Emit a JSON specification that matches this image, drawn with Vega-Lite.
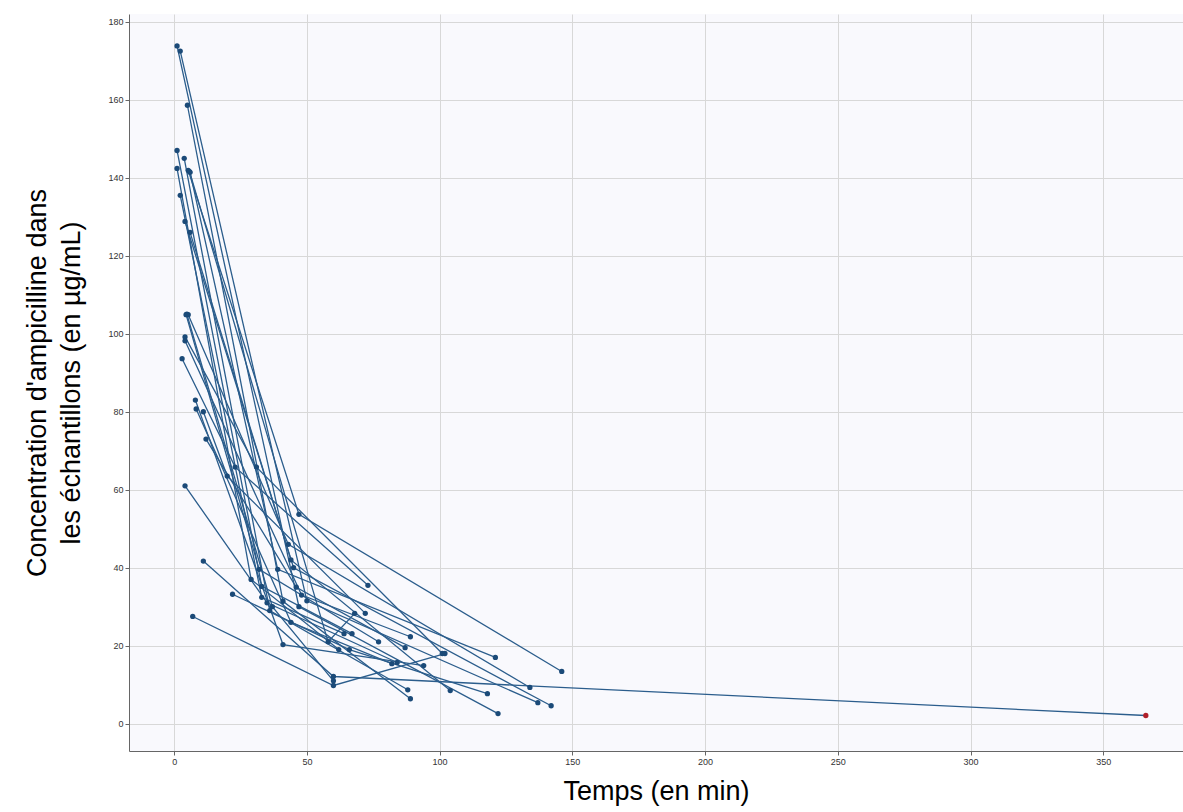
{
  "$schema": "https://vega.github.io/schema/vega-lite/v6.json",
  "width": 1183,
  "height": 812,
  "autosize": {"type": "fit", "contains": "padding"},
  "padding": {"left": 23, "top": 14, "right": 0, "bottom": 8},
  "background": "white",
  "config": {
    "view": {"fill": "#f9f9fd", "stroke": null},
    "font": "Liberation Sans"
  },
  "data": {
    "values": [
      {"id": "A", "t": 1.1, "c": 173.8}, {"id": "A", "t": 47, "c": 30}, {"id": "A", "t": 122, "c": 2.6},
      {"id": "B", "t": 2.3, "c": 172.5}, {"id": "B", "t": 50, "c": 31.5}, {"id": "B", "t": 137, "c": 5.4},
      {"id": "C", "t": 5, "c": 158.6}, {"id": "C", "t": 41, "c": 31.4}, {"id": "C", "t": 89, "c": 6.4},
      {"id": "D", "t": 1.1, "c": 147}, {"id": "D", "t": 33, "c": 35.2}, {"id": "D", "t": 67, "c": 23.1},
      {"id": "E", "t": 3.8, "c": 145}, {"id": "E", "t": 36, "c": 29}, {"id": "E", "t": 88, "c": 8.7},
      {"id": "F", "t": 1.1, "c": 142.4}, {"id": "F", "t": 29, "c": 37}, {"id": "F", "t": 62, "c": 19},
      {"id": "G", "t": 5.3, "c": 141.9}, {"id": "G", "t": 47, "c": 53.7}, {"id": "G", "t": 146, "c": 13.4},
      {"id": "H", "t": 6, "c": 141.4}, {"id": "H", "t": 39, "c": 39.6}, {"id": "H", "t": 121, "c": 17},
      {"id": "I", "t": 2.3, "c": 135.5}, {"id": "I", "t": 33, "c": 32.4}, {"id": "I", "t": 64, "c": 23.1},
      {"id": "J", "t": 4.1, "c": 128.8}, {"id": "J", "t": 45, "c": 40}, {"id": "J", "t": 142, "c": 4.6},
      {"id": "K", "t": 6, "c": 126}, {"id": "K", "t": 44, "c": 42}, {"id": "K", "t": 104, "c": 8.5},
      {"id": "L", "t": 4.5, "c": 104.9}, {"id": "L", "t": 32, "c": 39.6}, {"id": "L", "t": 77, "c": 21},
      {"id": "M", "t": 5.3, "c": 104.9}, {"id": "M", "t": 43, "c": 46}, {"id": "M", "t": 134, "c": 9.3},
      {"id": "N", "t": 4.1, "c": 99.2}, {"id": "N", "t": 31, "c": 65.8}, {"id": "N", "t": 101, "c": 18},
      {"id": "O", "t": 4.1, "c": 98.2}, {"id": "O", "t": 48, "c": 33}, {"id": "O", "t": 89, "c": 22.3},
      {"id": "P", "t": 3, "c": 93.6}, {"id": "P", "t": 23, "c": 65.8}, {"id": "P", "t": 73, "c": 35.5},
      {"id": "Q", "t": 8, "c": 83}, {"id": "Q", "t": 41, "c": 20.3}, {"id": "Q", "t": 94, "c": 14.9},
      {"id": "R", "t": 8.3, "c": 80.7}, {"id": "R", "t": 44, "c": 26}, {"id": "R", "t": 82, "c": 15.4},
      {"id": "S", "t": 11, "c": 80}, {"id": "S", "t": 20, "c": 63.5}, {"id": "S", "t": 72, "c": 28.3},
      {"id": "T", "t": 12, "c": 73}, {"id": "T", "t": 46, "c": 35}, {"id": "T", "t": 87, "c": 19.5},
      {"id": "U", "t": 4.1, "c": 61}, {"id": "U", "t": 35, "c": 31}, {"id": "U", "t": 84, "c": 15.7},
      {"id": "V", "t": 11, "c": 41.7}, {"id": "V", "t": 60, "c": 12.1}, {"id": "V", "t": 366, "c": 2.1},
      {"id": "W", "t": 22, "c": 33.2}, {"id": "W", "t": 66, "c": 19}, {"id": "W", "t": 118, "c": 7.7},
      {"id": "X", "t": 7, "c": 27.5}, {"id": "X", "t": 60, "c": 9.8}, {"id": "X", "t": 102, "c": 18},
      {"id": "Y", "t": 5.8, "c": 141.6}, {"id": "Y", "t": 58, "c": 21}, {"id": "Y", "t": 68, "c": 28.3},
      {"id": "Z", "t": 4.8, "c": 105}, {"id": "Z", "t": 37, "c": 30}, {"id": "Z", "t": 60, "c": 11}
    ]
  },
  "encoding": {
    "x": {
      "field": "t", "type": "quantitative",
      "scale": {"domain": [-17, 380], "nice": false, "zero": false},
      "axis": {
        "values": [0, 50, 100, 150, 200, 250, 300, 350],
        "title": "Temps (en min)",
        "titleFontSize": 27, "titleFontWeight": "normal", "titleColor": "#000",
        "titlePadding": 12,
        "labelFontSize": 9, "labelColor": "#333",
        "domainColor": "#666", "tickColor": "#666", "tickSize": 4,
        "grid": true, "gridColor": "#d8d8d8"
      }
    },
    "y": {
      "field": "c", "type": "quantitative",
      "scale": {"domain": [-7, 182], "nice": false, "zero": false},
      "axis": {
        "values": [0, 20, 40, 60, 80, 100, 120, 140, 160, 180],
        "title": ["Concentration d'ampicilline dans", "les échantillons (en µg/mL)"],
        "titleFontSize": 27, "titleFontWeight": "normal", "titleColor": "#000",
        "titlePadding": 22, "titleLineHeight": 34,
        "labelFontSize": 9, "labelColor": "#333",
        "domainColor": "#666", "tickColor": "#666", "tickSize": 4,
        "grid": true, "gridColor": "#d8d8d8"
      }
    }
  },
  "layer": [
    {
      "mark": {"type": "line", "color": "#2b5d8c", "strokeWidth": 1.3},
      "encoding": {"detail": {"field": "id"}, "order": {"field": "t"}}
    },
    {
      "mark": {"type": "circle", "size": 28, "opacity": 1},
      "encoding": {
        "color": {
          "condition": {"test": "datum.t > 300", "value": "#b0202a"},
          "value": "#1b4a78"
        }
      }
    }
  ]
}
